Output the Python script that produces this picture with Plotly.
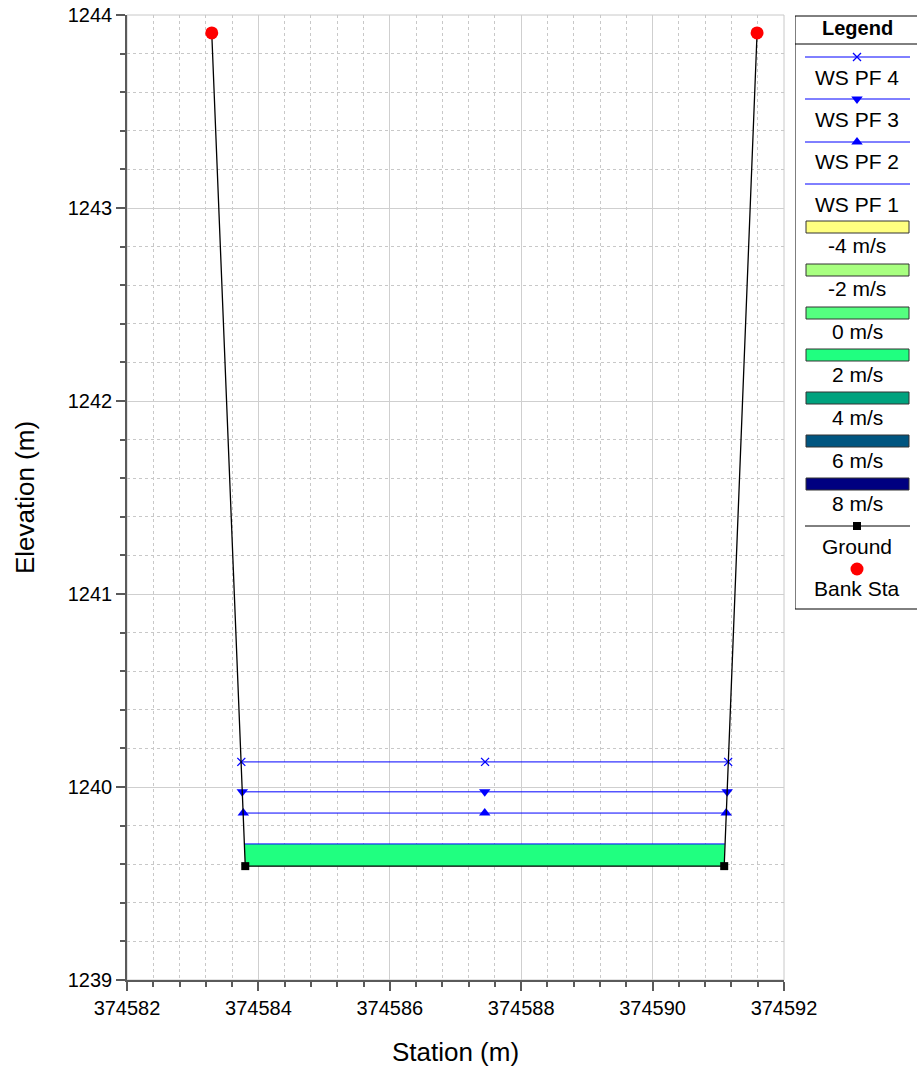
import plotly.graph_objects as go

# ---- data ----
ground_x = [374583.29, 374583.80, 374591.09, 374591.59]
ground_y = [1243.907, 1239.59, 1239.59, 1243.907]
bank_x = [374583.29, 374591.59]
bank_y = [1243.907, 1243.907]
ws4_x = [374583.74, 374587.45, 374591.15]
ws4_y = [1240.13, 1240.13, 1240.13]
ws3_x = [374583.755, 374587.445, 374591.135]
ws3_y = [1239.975, 1239.975, 1239.975]
ws2_x = [374583.77, 374587.445, 374591.12]
ws2_y = [1239.865, 1239.865, 1239.865]
ws1_x = [374583.79, 374591.10]
ws1_y = [1239.705, 1239.705]
vel_labels = ["-4 m/s", "-2 m/s", "0 m/s", "2 m/s", "4 m/s", "6 m/s", "8 m/s"]
vel_colors = ["#FFFF80", "#A8FF80", "#55FF80", "#20FF80", "#00A27E", "#005580", "#000080"]
fill_color = vel_colors[3]

FONT = "Liberation Sans, Arial, sans-serif"

fig = go.Figure()

# WS PF 1 flow area (filled by velocity colour)
poly_x = [ws1_x[0], ws1_x[1], ground_x[2], ground_x[1], ws1_x[0]]
poly_y = [ws1_y[0], ws1_y[1], ground_y[2], ground_y[1], ws1_y[0]]
fig.add_trace(go.Scatter(x=poly_x, y=poly_y, mode="lines", fill="toself",
                         fillcolor=fill_color, line=dict(width=0), hoverinfo="skip"))
fig.add_trace(go.Scatter(x=ws1_x, y=ws1_y, mode="lines", line=dict(color="blue", width=1)))
fig.add_trace(go.Scatter(x=ws2_x, y=ws2_y, mode="lines+markers", line=dict(color="blue", width=1),
                         marker=dict(symbol="triangle-up", size=10, color="blue")))
fig.add_trace(go.Scatter(x=ws3_x, y=ws3_y, mode="lines+markers", line=dict(color="blue", width=1),
                         marker=dict(symbol="triangle-down", size=10, color="blue")))
fig.add_trace(go.Scatter(x=ws4_x, y=ws4_y, mode="lines+markers", line=dict(color="blue", width=1),
                         marker=dict(symbol="x-thin", size=8, line=dict(color="blue", width=1.3))))
fig.add_trace(go.Scatter(x=ground_x, y=ground_y, mode="lines+markers",
                         line=dict(color="black", width=1.3),
                         marker=dict(symbol="square", size=8, color="black")))
fig.add_trace(go.Scatter(x=bank_x, y=bank_y, mode="markers",
                         marker=dict(symbol="circle", size=13, color="red"), cliponaxis=False))

# ---- custom legend (drawn in pixel-like coordinates on a hidden axis pair) ----
LX0, LX1, LXC = 805, 910, 857
leg_font = dict(family=FONT, size=21, color="black")
shapes = []
annotations = []
shapes.append(dict(type="rect", xref="x2", yref="y2", x0=795, x1=920, y0=16, y1=609,
                   line=dict(color="black", width=1)))
shapes.append(dict(type="line", xref="x2", yref="y2", x0=795, x1=920, y0=44, y1=44,
                   line=dict(color="black", width=1)))
annotations.append(dict(xref="x2", yref="y2", x=LXC, y=28, text="<b>Legend</b>",
                        showarrow=False, font=dict(family=FONT, size=20, color="black")))

ws_items = [("WS PF 4", "x-thin"), ("WS PF 3", "triangle-down"), ("WS PF 2", "triangle-up"), ("WS PF 1", None)]
line_ys = [57, 99, 142, 184]
text_ys = [77, 119, 161, 204]
for (name, sym), ly, ty in zip(ws_items, line_ys, text_ys):
    shapes.append(dict(type="line", xref="x2", yref="y2", x0=LX0, x1=LX1, y0=ly, y1=ly,
                       line=dict(color="blue", width=1)))
    annotations.append(dict(xref="x2", yref="y2", x=LXC, y=ty, text=name, showarrow=False, font=leg_font))
    if sym:
        if sym == "x-thin":
            mk = dict(symbol=sym, size=8, line=dict(color="blue", width=1.3))
        else:
            mk = dict(symbol=sym, size=10, color="blue")
        fig.add_trace(go.Scatter(x=[LXC], y=[ly], xaxis="x2", yaxis="y2", mode="markers",
                                 marker=mk, hoverinfo="skip", cliponaxis=False))

rect_cy = [227, 270, 313, 355, 398, 441, 484]
vtext_y = [245, 288, 331, 374, 417, 460, 503]
for lab, col, cy, ty in zip(vel_labels, vel_colors, rect_cy, vtext_y):
    shapes.append(dict(type="rect", xref="x2", yref="y2", x0=806, x1=909, y0=cy - 6, y1=cy + 6,
                       fillcolor=col, line=dict(color="#333333", width=1)))
    annotations.append(dict(xref="x2", yref="y2", x=LXC, y=ty, text=lab, showarrow=False, font=leg_font))

shapes.append(dict(type="line", xref="x2", yref="y2", x0=LX0, x1=LX1, y0=526, y1=526,
                   line=dict(color="black", width=1)))
fig.add_trace(go.Scatter(x=[LXC], y=[526], xaxis="x2", yaxis="y2", mode="markers",
                         marker=dict(symbol="square", size=8, color="black"), hoverinfo="skip", cliponaxis=False))
annotations.append(dict(xref="x2", yref="y2", x=LXC, y=546, text="Ground", showarrow=False, font=leg_font))
fig.add_trace(go.Scatter(x=[LXC], y=[569], xaxis="x2", yaxis="y2", mode="markers",
                         marker=dict(symbol="circle", size=13, color="red"), hoverinfo="skip", cliponaxis=False))
annotations.append(dict(xref="x2", yref="y2", x=LXC, y=588, text="Bank Sta", showarrow=False, font=leg_font))

# plot border (top/right light gray)
shapes.append(dict(type="rect", xref="x domain", yref="y domain", x0=0, x1=1, y0=0, y1=1,
                   line=dict(color="#c8c8c8", width=1), layer="below"))

W, H = 917, 1070
ML, MR, MT, MB = 127, 0, 15, 90
pw = W - ML - MR
ph = H - MT - MB

fig.update_layout(
    width=W, height=H,
    margin=dict(l=ML, r=MR, t=MT, b=MB),
    paper_bgcolor="white", plot_bgcolor="white",
    showlegend=False,
    font=dict(family=FONT, size=20, color="black"),
    shapes=shapes, annotations=annotations,
    xaxis=dict(domain=[0, 657 / pw], range=[374582, 374592], dtick=2, tick0=374582,
               tickformat="d", showgrid=True, gridcolor="#cfcfcf", gridwidth=1,
               zeroline=False, showline=True, linecolor="#5a5a5a", linewidth=1.5,
               ticks="outside", ticklen=9, tickcolor="#5a5a5a", tickwidth=1.5,
               tickfont=dict(family=FONT, size=20),
               minor=dict(dtick=0.4, tick0=374582, ticks="outside", ticklen=5, tickcolor="#5a5a5a",
                          showgrid=True, gridcolor="#c8c8c8", griddash="3px,3px", gridwidth=1),
               title=dict(text="Station (m)", font=dict(family=FONT, size=26), standoff=25),
               automargin=False, fixedrange=True),
    yaxis=dict(domain=[0, 1], range=[1239, 1244], dtick=1, tick0=1239,
               tickformat="d", showgrid=True, gridcolor="#cfcfcf", gridwidth=1,
               zeroline=False, showline=True, linecolor="#5a5a5a", linewidth=1.5,
               ticks="outside", ticklen=9, tickcolor="#5a5a5a", tickwidth=1.5,
               tickfont=dict(family=FONT, size=20),
               minor=dict(dtick=0.2, tick0=1239, ticks="outside", ticklen=5, tickcolor="#5a5a5a",
                          showgrid=True, gridcolor="#c8c8c8", griddash="3px,3px", gridwidth=1),
               title=dict(text="Elevation (m)", font=dict(family=FONT, size=26), standoff=26),
               automargin=False, fixedrange=True),
    xaxis2=dict(domain=[(795 - ML) / pw, 1], range=[795, 917], visible=False, fixedrange=True),
    yaxis2=dict(domain=[(980 - 610) / ph, 1], range=[610, 15], visible=False, fixedrange=True),
)

fig.write_html("out.html", config={"displayModeBar": False},
               post_script="document.body.style.margin='0px';document.body.style.overflow='hidden';")
